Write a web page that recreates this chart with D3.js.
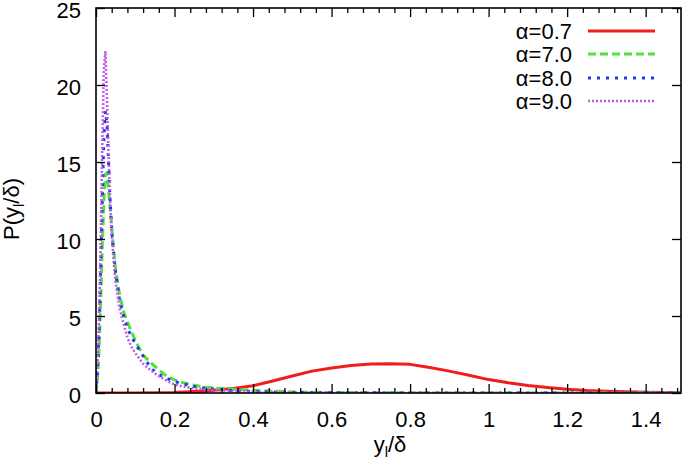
<!DOCTYPE html>
<html>
<head>
<meta charset="utf-8">
<script src="https://cdn.jsdelivr.net/npm/d3@7/dist/d3.min.js"></script>
<style>
  html, body { margin: 0; padding: 0; background: #fff; }
  svg { display: block; font-family: "Liberation Sans", Arial, Helvetica, sans-serif; }
</style>
</head>
<body>
<svg id="chart" width="685" height="465"></svg>
<script>
// ---- data ----
const xTicks = [0, 0.2, 0.4, 0.6, 0.8, 1, 1.2, 1.4];
const xTickLabels = ["0", "0.2", "0.4", "0.6", "0.8", "1", "1.2", "1.4"];
const yTicks = [0, 5, 10, 15, 20, 25];
const yTickLabels = ["0", "5", "10", "15", "20", "25"];

const seriesNames = ["\u03b1=0.7", "\u03b1=7.0", "\u03b1=8.0", "\u03b1=9.0"];

const xRed = [0, 0.1, 0.15, 0.2, 0.25, 0.3, 0.35, 0.4, 0.45, 0.5, 0.55, 0.6, 0.65, 0.7, 0.75, 0.8, 0.85, 0.9, 0.95, 1.0, 1.05, 1.1, 1.15, 1.2, 1.25, 1.3, 1.35, 1.4, 1.45, 1.5];
const yRed = [0, 0, 0.01, 0.04, 0.1, 0.18, 0.3, 0.47, 0.78, 1.1, 1.42, 1.63, 1.79, 1.89, 1.9, 1.86, 1.65, 1.42, 1.15, 0.87, 0.66, 0.48, 0.36, 0.24, 0.16, 0.11, 0.08, 0.05, 0.03, 0.02];

const xWall = [0, 0.004, 0.008, 0.012, 0.016, 0.02, 0.024, 0.028, 0.032, 0.036, 0.04, 0.045, 0.05, 0.06, 0.07, 0.08, 0.09, 0.10, 0.12, 0.14, 0.16, 0.18, 0.20, 0.22, 0.25, 0.28, 0.31, 0.35, 0.4, 0.45, 0.5, 0.6, 0.8, 1.0, 1.2, 1.5];
const yGreen = [0, 1, 3, 6, 9.5, 12.5, 14.2, 14.3, 13.2, 12, 10.8, 9.3, 8, 6.4, 5.3, 4.6, 4.0, 3.4, 2.45, 1.95, 1.5, 1.1, 0.85, 0.68, 0.5, 0.38, 0.31, 0.25, 0.18, 0.12, 0.07, 0.03, 0.01, 0, 0, 0];
const yBlue = [0, 1.5, 4, 8, 12.5, 16.5, 18.3, 17.5, 15, 12.5, 10.6, 9, 7.8, 6, 5, 4.2, 3.7, 3.2, 2.4, 1.6, 1.2, 0.95, 0.75, 0.6, 0.42, 0.3, 0.24, 0.16, 0.1, 0.06, 0.04, 0.02, 0, 0, 0, 0];
const yPurple = [0, 2, 5, 10, 16, 21, 22.2, 19, 15.5, 12.5, 10.3, 8.5, 7.2, 5.5, 4.5, 3.6, 3.0, 2.6, 1.9, 1.45, 1.1, 0.8, 0.55, 0.42, 0.3, 0.23, 0.18, 0.12, 0.07, 0.04, 0.02, 0.01, 0, 0, 0, 0];

// ---- layout ----
const svg = d3.select("#chart");
const mLeft = 96, mRight = 681, mTop = 8, mBottom = 393;
const x = d3.scaleLinear().domain([0, 1.49]).range([mLeft, mRight]);
const y = d3.scaleLinear().domain([0, 25]).range([mBottom, mTop]);
const FS = 22;

const styles = [
  { color: "#f21c1c", width: 3, dash: null },
  { color: "#4ee23a", width: 3, dash: "8,4" },
  { color: "#2338e8", width: 3, dash: "3,6" },
  { color: "#c25ee6", width: 2.6, dash: "2,2" }
];

const series = [
  { xs: xRed, ys: yRed },
  { xs: xWall, ys: yGreen },
  { xs: xWall, ys: yBlue },
  { xs: xWall, ys: yPurple }
];

svg.append("defs").append("clipPath").attr("id", "clip")
  .append("rect").attr("x", mLeft).attr("y", mTop).attr("width", mRight - mLeft).attr("height", mBottom - mTop);

const line = d3.line().x(d => x(d[0])).y(d => y(d[1]));

const g = svg.append("g").attr("clip-path", "url(#clip)");
series.forEach((s, i) => {
  const pts = s.xs.map((v, k) => [v, s.ys[k]]);
  g.append("path")
    .attr("d", line(pts))
    .attr("fill", "none")
    .attr("stroke", styles[i].color)
    .attr("stroke-width", styles[i].width)
    .attr("stroke-dasharray", styles[i].dash)
    .attr("stroke-linejoin", "round");
});

// ---- axes (ticks inward, mirrored) ----
const tickColor = "#000";
const xMinor = d3.range(0, 1.49, 0.04).filter(v => !xTicks.some(t => Math.abs(t - v) < 1e-6));
const axisBottom = d3.axisBottom(x).tickValues(xTicks).tickFormat((d, i) => xTickLabels[i]).tickSizeInner(-9).tickSizeOuter(0).tickPadding(18);
const axisTop = d3.axisTop(x).tickValues(xTicks).tickFormat("").tickSizeInner(-9).tickSizeOuter(0);
const axisBottomMinor = d3.axisBottom(x).tickValues(xMinor).tickFormat("").tickSizeInner(-5).tickSizeOuter(0);
const axisTopMinor = d3.axisTop(x).tickValues(xMinor).tickFormat("").tickSizeInner(-5).tickSizeOuter(0);
const axisLeft = d3.axisLeft(y).tickValues(yTicks).tickFormat((d, i) => yTickLabels[i]).tickSizeInner(-9).tickSizeOuter(0).tickPadding(15);
const axisRight = d3.axisRight(y).tickValues(yTicks).tickFormat("").tickSizeInner(-9).tickSizeOuter(0);

function styleAxis(sel) {
  sel.select(".domain").remove();
  sel.selectAll(".tick line").attr("stroke", tickColor).attr("stroke-width", 1.3);
  sel.selectAll(".tick text").attr("fill", "#000").attr("font-size", FS)
    .attr("font-family", "'Liberation Sans', Arial, Helvetica, sans-serif");
}
svg.append("g").attr("transform", `translate(0,${mBottom})`).call(axisBottom).call(styleAxis);
svg.append("g").attr("transform", `translate(0,${mTop})`).call(axisTop).call(styleAxis);
svg.append("g").attr("transform", `translate(0,${mBottom})`).call(axisBottomMinor).call(styleAxis);
svg.append("g").attr("transform", `translate(0,${mTop})`).call(axisTopMinor).call(styleAxis);
svg.append("g").attr("transform", `translate(${mLeft},0)`).call(axisLeft).call(styleAxis)
  .selectAll(".tick text").attr("dy", "0.45em");
svg.append("g").attr("transform", `translate(${mRight},0)`).call(axisRight).call(styleAxis);

// frame
svg.append("rect").attr("x", mLeft).attr("y", mTop).attr("width", mRight - mLeft).attr("height", mBottom - mTop)
  .attr("fill", "none").attr("stroke", "#000").attr("stroke-width", 1.6);

// ---- axis labels ----
const xl = svg.append("text").attr("x", 390).attr("y", 452).attr("text-anchor", "middle")
  .attr("font-size", FS).attr("fill", "#000");
xl.append("tspan").text("y");
xl.append("tspan").text("l").attr("font-size", 15).attr("dy", 5);
xl.append("tspan").text("/\u03b4").attr("dy", -5);

const yl = svg.append("text").attr("transform", "translate(19,209) rotate(-90)").attr("text-anchor", "middle")
  .attr("font-size", FS).attr("fill", "#000");
yl.append("tspan").text("P(y");
yl.append("tspan").text("l").attr("font-size", 15).attr("dy", 5);
yl.append("tspan").text("/\u03b4)").attr("dy", -5);

// ---- legend ----
const legY = [31, 54, 78, 101];
seriesNames.forEach((name, i) => {
  svg.append("text").attr("x", 572).attr("y", legY[i]).attr("dy", "0.36em")
    .attr("text-anchor", "end").attr("font-size", FS).attr("fill", "#000").text(name);
  svg.append("line").attr("x1", 588).attr("x2", 655).attr("y1", legY[i]).attr("y2", legY[i])
    .attr("stroke", styles[i].color).attr("stroke-width", styles[i].width)
    .attr("stroke-dasharray", styles[i].dash);
});
</script>
</body>
</html>
